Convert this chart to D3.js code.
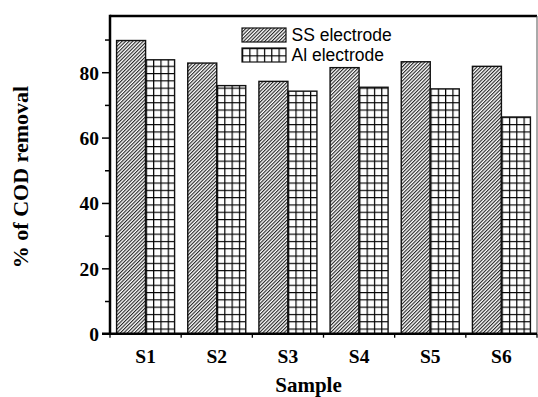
<!DOCTYPE html>
<html>
<head>
<meta charset="utf-8">
<script src="https://cdn.jsdelivr.net/npm/d3@7/dist/d3.min.js"></script>
<style>
  html, body { margin: 0; padding: 0; background: #fff; }
  svg { display: block; }
</style>
</head>
<body>
<script>
// ---- data ----
const categories = ["S1", "S2", "S3", "S4", "S5", "S6"];
const seriesNames = ["SS electrode", "Al electrode"];
const ssValues = [89.7, 82.8, 77.2, 81.4, 83.2, 81.8];
const alValues = [83.8, 75.9, 74.2, 75.4, 74.9, 66.3];
const yMajorTicks = [0, 20, 40, 60, 80];
const yMinorTicks = [10, 30, 50, 70, 90];
const xTitle = "Sample";
const yTitle = "% of COD removal";

const W = 538, H = 397;
const mL = 110, mR = 537, mT = 16, mB = 333.7;

const svg = d3.select("body").append("svg")
  .attr("width", W).attr("height", H);

const defs = svg.append("defs");
// diagonal hatch for SS
const hatch = defs.append("pattern")
  .attr("id", "hatch")
  .attr("patternUnits", "userSpaceOnUse")
  .attr("width", 2.5).attr("height", 2.5)
  .attr("patternTransform", "rotate(45)");
hatch.append("rect").attr("width", 2.5).attr("height", 2.5).attr("fill", "#fff");
hatch.append("line").attr("x1", 0.6).attr("y1", 0).attr("x2", 0.6).attr("y2", 2.5)
  .attr("stroke", "#000").attr("stroke-width", 0.95);
// grid for Al
const gs = 7.3;
const grid = defs.append("pattern")
  .attr("id", "grid")
  .attr("patternUnits", "userSpaceOnUse")
  .attr("width", gs).attr("height", gs);
grid.append("rect").attr("width", gs).attr("height", gs).attr("fill", "#fff");
grid.append("path").attr("d", `M0,0.6H${gs}M0.6,0V${gs}`)
  .attr("stroke", "#000").attr("stroke-width", 1.2).attr("fill", "none");

const fills = { "SS electrode": "url(#hatch)", "Al electrode": "url(#grid)" };

// ---- scales ----
const x = d3.scaleBand().domain(categories).range([mL, mR])
  .paddingInner(0.185).paddingOuter(0.0925);
const xs = d3.scaleBand().domain(seriesNames).range([0, x.bandwidth()]);
const y = d3.scaleLinear().domain([0, 97.2]).range([mB, mT]);

const rows = categories.map((c, i) => ({ cat: c, vals: [
  { s: seriesNames[0], v: ssValues[i] },
  { s: seriesNames[1], v: alValues[i] } ] }));

// ---- bars ----
const g = svg.append("g");
g.selectAll("g.grp").data(rows).join("g")
  .attr("class", "grp")
  .attr("transform", d => `translate(${x(d.cat)},0)`)
  .selectAll("rect").data(d => d.vals).join("rect")
  .attr("x", d => xs(d.s))
  .attr("width", xs.bandwidth())
  .attr("y", d => y(d.v))
  .attr("height", d => y(0) - y(d.v))
  .attr("fill", d => fills[d.s])
  .attr("stroke", "#111")
  .attr("stroke-width", 1.4);

// ---- y axis ticks ----
const serif = "'Liberation Serif', 'Times New Roman', serif";
const yAx = svg.append("g").attr("transform", `translate(${mL},0)`)
  .call(d3.axisLeft(y).tickValues(yMajorTicks).tickSize(8).tickPadding(3).tickFormat(d3.format("d")));
yAx.select(".domain").remove();
yAx.selectAll("line").attr("stroke", "#000").attr("stroke-width", 1.5);
yAx.selectAll("text").attr("font-family", serif).attr("font-weight", "bold")
  .attr("font-size", 19.5).attr("fill", "#000").attr("dy", "0.36em");

const yMin = svg.append("g").attr("transform", `translate(${mL},0)`)
  .call(d3.axisLeft(y).tickValues(yMinorTicks).tickSize(5).tickFormat(""));
yMin.select(".domain").remove();
yMin.selectAll("line").attr("stroke", "#000").attr("stroke-width", 1.5);

// ---- x axis ----
const xAx = svg.append("g").attr("transform", `translate(0,${mB})`)
  .call(d3.axisBottom(x).tickSize(0).tickPadding(0));
xAx.select(".domain").remove();
xAx.selectAll("text").attr("font-family", serif).attr("font-weight", "bold")
  .attr("font-size", 19.5).attr("fill", "#000").attr("y", 29).attr("dy", 0);

// boundary ticks
const bounds = d3.range(categories.length + 1).map(i => mL + i * x.step());
svg.append("g").selectAll("line").data(bounds).join("line")
  .attr("x1", d => d).attr("x2", d => d)
  .attr("y1", mB).attr("y2", mB + 4)
  .attr("stroke", "#000").attr("stroke-width", 1.3);

// ---- frame ----
svg.append("line").attr("x1", mL).attr("x2", mR).attr("y1", mT).attr("y2", mT)
  .attr("stroke", "#000").attr("stroke-width", 2.5);
svg.append("line").attr("x1", mR).attr("x2", mR).attr("y1", mT).attr("y2", mB)
  .attr("stroke", "#555").attr("stroke-width", 1);
svg.append("line").attr("x1", mL).attr("x2", mL).attr("y1", mT - 1.25).attr("y2", mB + 1.25)
  .attr("stroke", "#000").attr("stroke-width", 2.5);
svg.append("line").attr("x1", mL - 8).attr("x2", mR).attr("y1", mB).attr("y2", mB)
  .attr("stroke", "#000").attr("stroke-width", 2.5);

// ---- titles ----
svg.append("text").text(xTitle)
  .attr("x", 308.5).attr("y", 392)
  .attr("text-anchor", "middle")
  .attr("font-family", serif).attr("font-weight", "bold").attr("font-size", 21);
svg.append("text").text(yTitle)
  .attr("transform", "translate(28,177) rotate(-90)")
  .attr("text-anchor", "middle")
  .attr("font-family", serif).attr("font-weight", "bold").attr("font-size", 22);

// ---- legend ----
const sans = "'Liberation Sans', Arial, sans-serif";
const leg = svg.append("g").attr("transform", "translate(242,28)");
const li = leg.selectAll("g").data(seriesNames).join("g")
  .attr("transform", (d, i) => `translate(0,${i * 20})`);
li.append("rect").attr("width", 44).attr("height", 14)
  .attr("fill", d => fills[d]).attr("stroke", "#111").attr("stroke-width", 1.2);
li.append("text").text(d => d)
  .attr("x", 49.5).attr("y", 12.7)
  .attr("font-family", sans).attr("font-size", 17.5).attr("fill", "#000");
</script>
</body>
</html>
